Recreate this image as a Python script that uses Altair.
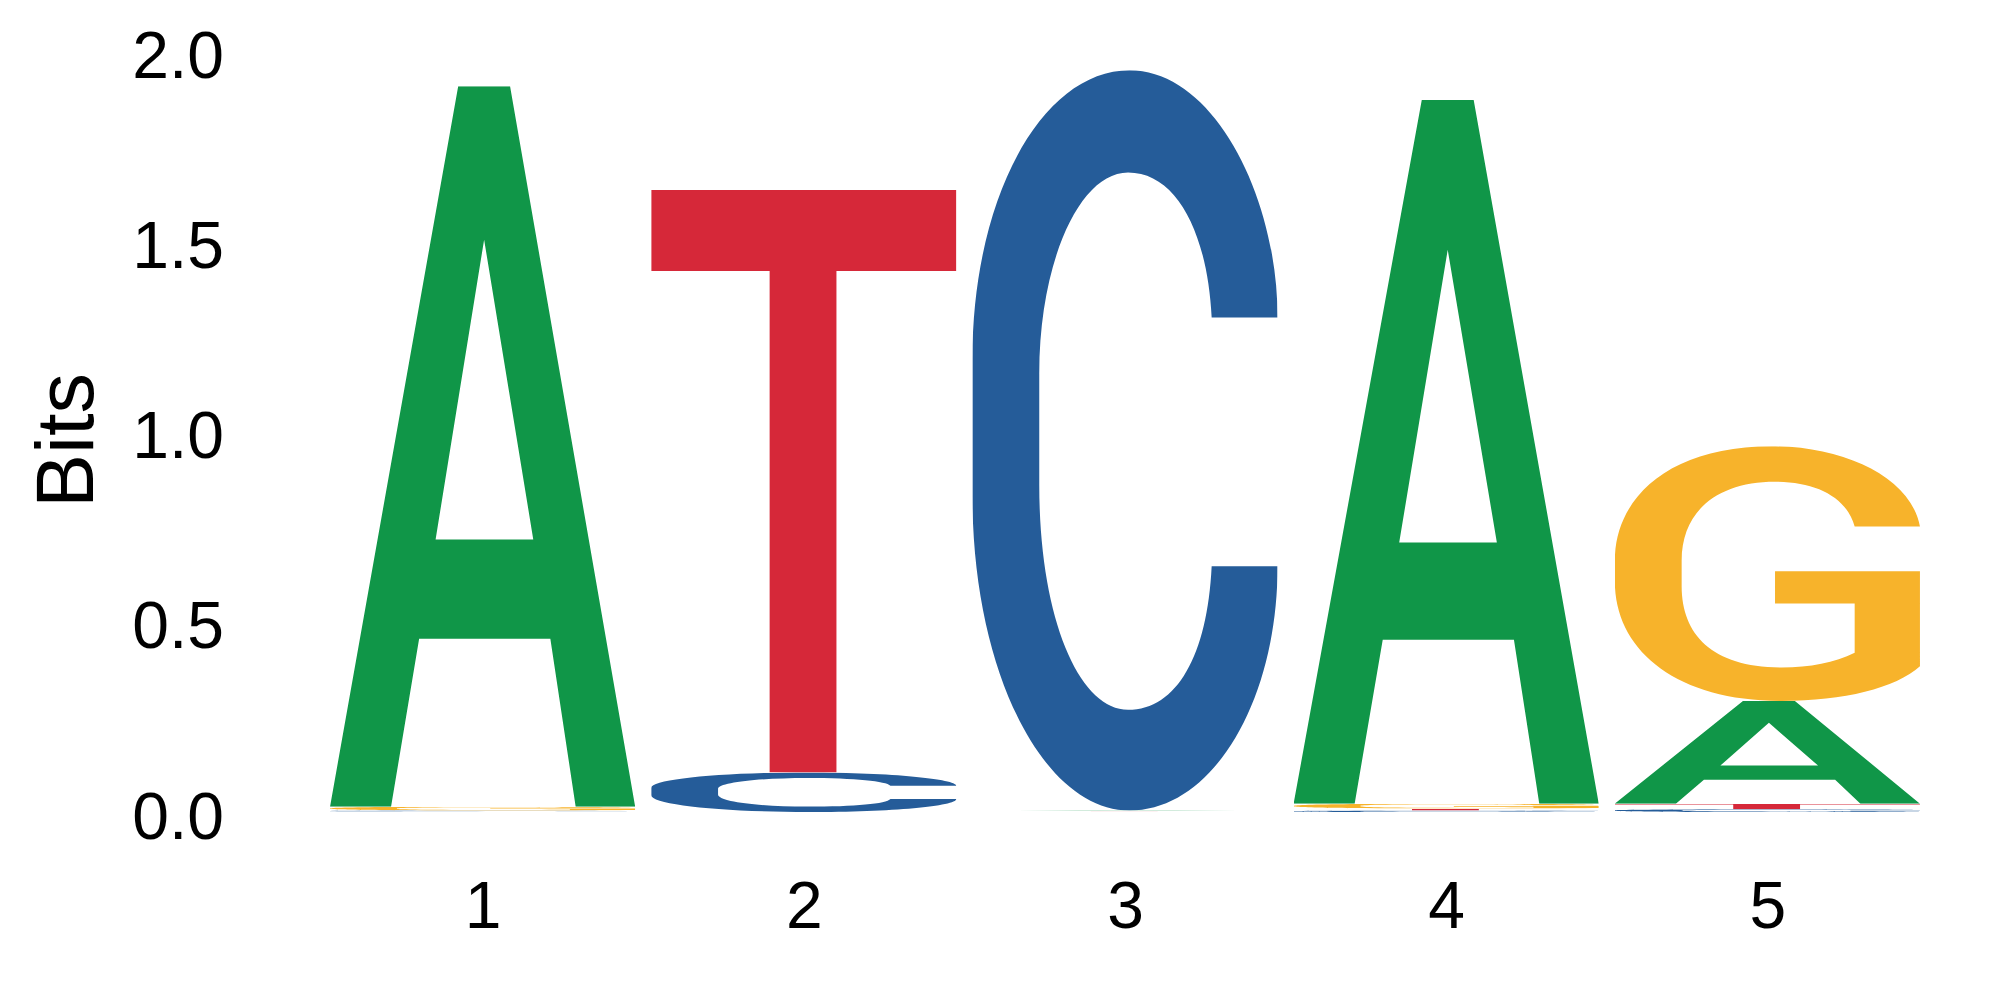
import altair as alt
import pandas as pd
from urllib.parse import quote

# ---- data (information content in bits) ----
positions = [1, 2, 3, 4, 5]
letters = ["A", "C", "G", "T"]
A_bits = [1.895, 0.0, 0.002, 1.851, 0.270]
C_bits = [0.003, 0.104, 1.947, 0.004, 0.007]
G_bits = [0.010, 0.0, 0.001, 0.013, 0.670]
T_bits = [0.001, 1.532, 0.001, 0.005, 0.015]
y_ticks = [0.0, 0.5, 1.0, 1.5, 2.0]

# ---- styling ----
colors = {"A": "#109648", "C": "#255C99", "G": "#F7B32B", "T": "#D62839"}
glyph_paths = {
    "A": "M0,100 L42,0 L59,0 L100,100 L80.5,100 L72.2,76.7 L29.2,76.7 L20,100 Z "
         "M34.6,62.9 L50.5,21.3 L66.6,62.9 Z",
    "T": "M0,0 L100,0 L100,13.9 L60.7,13.9 L60.7,100 L38.8,100 L38.8,13.9 L0,13.9 Z",
    "C": "M100,33.4 C100,17 79,0 51.5,0 C23,0 0,17 0,39 L0,57.5 C0,81 23,100 51.5,100 "
         "C79,100 100,85 100,67 L78.4,67 C77,79 67,86.4 51,86.4 C35,86.4 21.9,74 21.9,56 "
         "L21.9,41 C21.9,26 35,13.8 51,13.8 C67,13.8 77,22 78.4,33.4 Z",
    "G": "M100,31.5 C97,12 75,0 51.3,0 C18,0 0,20 0,45 L0,53 C0,80 20,100 54.7,100 "
         "C75,100 92,95 100,86.4 L100,49.1 L52.5,49.1 L52.5,61.7 L78.6,61.7 L78.6,81.1 "
         "C72,85 64,86.9 54.7,86.9 C32,86.9 21.9,74 21.9,55 L21.9,45 C21.9,25 34,13.9 52.5,13.9 "
         "C66,13.9 76,20 78.6,31.5 Z",
}


def glyph_url(letter):
    svg = (
        '<svg xmlns="http://www.w3.org/2000/svg" viewBox="0 0 100 100" width="100" height="100" '
        'preserveAspectRatio="none">'
        f'<path fill="{colors[letter]}" fill-rule="evenodd" d="{glyph_paths[letter]}"/></svg>'
    )
    return "data:image/svg+xml;charset=utf-8," + quote(svg)


series = {"A": A_bits, "C": C_bits, "G": G_bits, "T": T_bits}
half_width = 0.475
rows = []
for i, p in enumerate(positions):
    col = [(L, series[L][i]) for L in letters if series[L][i] > 0]
    col.sort(key=lambda t: t[1])  # smallest at the bottom
    floor = 0.0
    for L, v in col:
        rows.append(dict(pos=p, letter=L, x0=p - half_width, x1=p + half_width,
                         y0=floor, y1=floor + v, bits=v, url=glyph_url(L)))
        floor += v
df = pd.DataFrame(rows)

FONT = "Liberation Sans"

chart = (
    alt.Chart(df)
    .mark_image(aspect=False)
    .encode(
        x=alt.X(
            "x0:Q",
            scale=alt.Scale(domain=[0.5, 5.5], nice=False, zero=False),
            axis=alt.Axis(values=positions, format="d", title=None, domain=False,
                          ticks=False, tickSize=0, grid=False, labelFontSize=66,
                          labelFont=FONT, labelColor="black", labelPadding=63,
                          labelFlush=False),
        ),
        x2="x1:Q",
        y=alt.Y(
            "y0:Q",
            scale=alt.Scale(domain=[0, 2], nice=False, zero=True),
            axis=alt.Axis(values=y_ticks, format=".1f", title="Bits", domain=False,
                          ticks=False, tickSize=0, grid=False, labelFontSize=66,
                          labelFont=FONT, labelColor="black", labelPadding=98.5,
                          labelOffset=6, labelFlush=False,
                          titleFont=FONT, titleFontSize=81, titleFontWeight="normal",
                          titleColor="black", titleX=-253.5, titleY=388.4,
                          titleAngle=270, titleAlign="center", titleBaseline="middle"),
        ),
        y2="y1:Q",
        url="url:N",
    )
    .properties(
        width=1606,
        height=760.4,
        autosize=alt.AutoSizeParams(type="none"),
        padding={"left": 314, "top": 43.6, "right": 60, "bottom": 150},
    )
    .configure_view(strokeWidth=0)
)

chart.save("out.html", embed_options={"renderer": "svg", "actions": False})
